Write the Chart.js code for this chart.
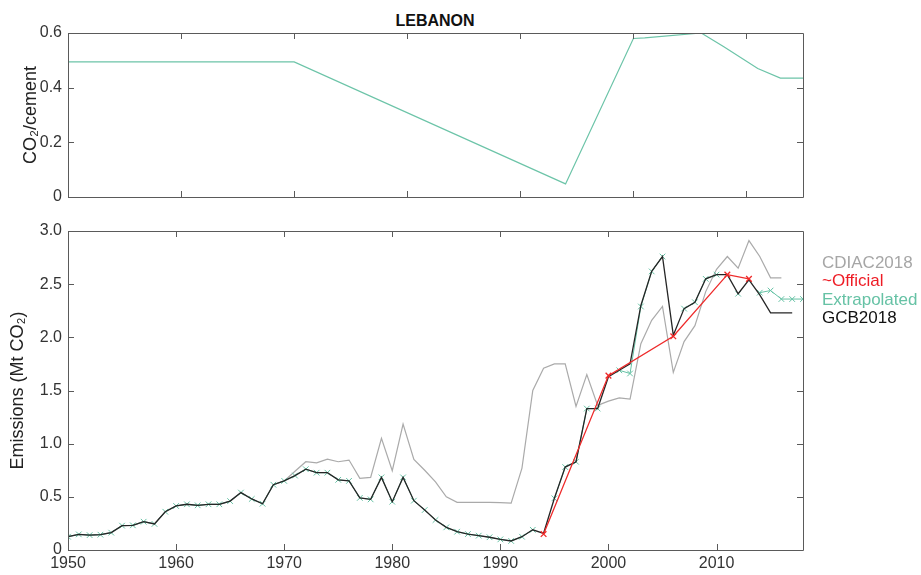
<!DOCTYPE html>
<html>
<head>
<meta charset="utf-8">
<script src="https://cdn.jsdelivr.net/npm/chart.js@4.4.1/dist/chart.umd.min.js"></script>
<style>
    body { margin: 0; background: #fff; font-family: Helvetica, "Liberation Sans", Arial, sans-serif; }
    #wrap { position: relative; width: 921px; height: 575px; overflow: hidden; }
    #topChart { position: absolute; left: 0; top: 0; }
    #bottomChart { position: absolute; left: 0; top: 215px; }
    #title { position: absolute; left: 0; top: 13px; width: 870px; text-align: center; font-weight: bold; font-size: 16px; line-height: 16px; color: #111; }
    #legend { position: absolute; left: 822px; top: 254px; font-size: 17px; line-height: 18.4px; white-space: nowrap; }
</style>
</head>
<body>
<div id="wrap">
    <div id="title">LEBANON</div>
    <canvas id="topChart" width="921" height="215"></canvas>
    <canvas id="bottomChart" width="921" height="360"></canvas>
    <div id="legend">
        <div style="color:#a6a6a6">CDIAC2018</div>
        <div style="color:#ee1c25">~Official</div>
        <div style="color:#66c2a5">Extrapolated</div>
        <div style="color:#111">GCB2018</div>
    </div>
</div>
<script>
// Ratio CO2 / cement (panel superior)
const ratioYears = [1950, 1970, 1994, 2000, 2001, 2006, 2008, 2011, 2013, 2015];
const ratioValues = [0.494, 0.494, 0.048, 0.58, 0.582, 0.60, 0.55, 0.47, 0.435, 0.435];
const ratioXTicks = [1950, 1960, 1970, 1980, 1990, 2000, 2010];
const ratioYTicks = [0, 0.2, 0.4, 0.6];

// Emisiones (panel inferior)
const years = [1950, 1951, 1952, 1953, 1954, 1955, 1956, 1957, 1958, 1959,
    1960, 1961, 1962, 1963, 1964, 1965, 1966, 1967, 1968, 1969,
    1970, 1971, 1972, 1973, 1974, 1975, 1976, 1977, 1978, 1979,
    1980, 1981, 1982, 1983, 1984, 1985, 1986, 1987, 1988, 1989,
    1990, 1991, 1992, 1993, 1994, 1995, 1996, 1997, 1998, 1999,
    2000, 2001, 2002, 2003, 2004, 2005, 2006, 2007, 2008, 2009,
    2010, 2011, 2012, 2013, 2014, 2015, 2016, 2017, 2018];

const gcb2018 = [0.125, 0.147, 0.14, 0.144, 0.163, 0.229, 0.232, 0.266, 0.245, 0.36,
    0.414, 0.43, 0.42, 0.43, 0.43, 0.46, 0.54, 0.48, 0.435, 0.614,
    0.65, 0.70, 0.76, 0.727, 0.727, 0.66, 0.65, 0.49, 0.476, 0.683,
    0.454, 0.683, 0.464, 0.376, 0.282, 0.213, 0.172, 0.15, 0.135, 0.12,
    0.10, 0.085, 0.125, 0.19, 0.157, 0.486, 0.78, 0.83, 1.33, 1.33,
    1.63, 1.69, 1.75, 2.30, 2.62, 2.76, 2.02, 2.27, 2.33, 2.55,
    2.59, 2.59, 2.41, 2.54, 2.40, 2.23, 2.23, 2.23, null];

const cdiac2018 = [0.125, 0.147, 0.14, 0.144, 0.163, 0.229, 0.232, 0.266, 0.245, 0.36,
    0.414, 0.43, 0.42, 0.43, 0.43, 0.46, 0.54, 0.48, 0.435, 0.614,
    0.65, 0.74, 0.83, 0.82, 0.855, 0.83, 0.846, 0.674, 0.683, 1.05,
    0.746, 1.184, 0.852, 0.75, 0.64, 0.50, 0.448, 0.448, 0.448, 0.448,
    0.445, 0.44, 0.77, 1.50, 1.71, 1.75, 1.75, 1.35, 1.65, 1.36,
    1.40, 1.43, 1.42, 1.94, 2.16, 2.29, 1.67, 1.96, 2.11, 2.43,
    2.64, 2.76, 2.65, 2.91, 2.76, 2.56, 2.56, null, null];

const extrapolated = [0.125, 0.147, 0.14, 0.144, 0.163, 0.229, 0.232, 0.266, 0.245, 0.36,
    0.414, 0.43, 0.42, 0.43, 0.43, 0.46, 0.54, 0.48, 0.435, 0.614,
    0.65, 0.70, 0.76, 0.727, 0.727, 0.66, 0.65, 0.49, 0.476, 0.683,
    0.454, 0.683, 0.464, 0.376, 0.282, 0.213, 0.172, 0.15, 0.135, 0.12,
    0.10, 0.085, 0.125, 0.19, null, 0.486, 0.78, 0.83, 1.33, 1.33,
    null, 1.69, 1.66, 2.29, 2.62, 2.76, null, 2.27, 2.33, 2.55,
    2.59, null, 2.41, null, 2.42, 2.44, 2.36, 2.36, 2.36];

const officialYears = [1994, 2000, 2006, 2011, 2013];
const officialValues = [0.15, 1.64, 2.01, 2.59, 2.55];

const emisXTicks = [1950, 1960, 1970, 1980, 1990, 2000, 2010];
const emisYTicks = [0, 0.5, 1.0, 1.5, 2.0, 2.5, 3.0];

Chart.defaults.font.family = 'Helvetica, "Liberation Sans", Arial, sans-serif';
Chart.defaults.color = '#333';

// Caja y marcas hacia dentro (estilo MATLAB)
const boxTicks = {
    id: 'boxTicks',
    afterDatasetsDraw(chart) {
        const { ctx, chartArea: a, scales: { x, y } } = chart;
        const len = 6;
        ctx.save();
        ctx.strokeStyle = '#5a5a5a';
        ctx.lineWidth = 1;
        ctx.beginPath();
        x.ticks.forEach(t => {
            const px = Math.round(x.getPixelForValue(t.value)) + 0.5;
            ctx.moveTo(px, a.bottom); ctx.lineTo(px, a.bottom - len);
            ctx.moveTo(px, a.top); ctx.lineTo(px, a.top + len);
        });
        y.ticks.forEach(t => {
            const py = Math.round(y.getPixelForValue(t.value)) + 0.5;
            ctx.moveTo(a.left, py); ctx.lineTo(a.left + len, py);
            ctx.moveTo(a.right, py); ctx.lineTo(a.right - len, py);
        });
        ctx.rect(Math.round(a.left) + 0.5, Math.round(a.top) + 0.5,
            Math.round(a.right - a.left), Math.round(a.bottom - a.top));
        ctx.stroke();
        ctx.restore();
    }
};

function fmtY(v) {
    return v === 0 ? '0' : v.toFixed(1);
}

new Chart(document.getElementById('topChart'), {
    type: 'line',
    data: {
        datasets: [{
            data: ratioYears.map((yr, i) => ({ x: yr, y: ratioValues[i] })),
            borderColor: '#6cc4a8',
            borderWidth: 1.2,
            pointRadius: 0,
            tension: 0
        }]
    },
    options: {
        responsive: false,
        animation: false,
        layout: { padding: { left: 0, top: 33, right: 118, bottom: 0 } },
        plugins: { legend: { display: false }, tooltip: { enabled: false } },
        scales: {
            x: {
                type: 'linear', min: 1950, max: 2015,
                afterBuildTicks: s => { s.ticks = ratioXTicks.map(v => ({ value: v })); },
                afterFit: s => { s.height = 18; },
                grid: { display: false, drawTicks: false },
                border: { display: false },
                ticks: { display: false }
            },
            y: {
                min: 0, max: 0.6,
                afterBuildTicks: s => { s.ticks = ratioYTicks.map(v => ({ value: v })); },
                afterFit: s => { s.width = 68; },
                grid: { display: false, drawTicks: false },
                border: { display: false },
                ticks: { font: { size: 16 }, padding: 6, callback: fmtY },
                title: { display: true, text: 'CO₂/cement', font: { size: 18 }, color: '#222', padding: { top: 20, bottom: 0 } }
            }
        }
    },
    plugins: [boxTicks]
});

new Chart(document.getElementById('bottomChart'), {
    type: 'line',
    data: {
        datasets: [
            {
                label: 'CDIAC2018',
                data: years.map((yr, i) => ({ x: yr, y: cdiac2018[i] })),
                borderColor: '#aaaaaa',
                borderWidth: 1.2,
                pointRadius: 0,
                order: 4
            },
            {
                label: 'Extrapolated',
                data: years.map((yr, i) => ({ x: yr, y: extrapolated[i] })),
                borderColor: '#66c2a5',
                borderWidth: 1,
                pointStyle: 'crossRot',
                pointRadius: 4,
                pointBorderWidth: 1,
                pointBorderColor: '#66c2a5',
                order: 3
            },
            {
                label: 'GCB2018',
                data: years.map((yr, i) => ({ x: yr, y: gcb2018[i] })),
                borderColor: '#262626',
                borderWidth: 1.3,
                pointRadius: 0,
                order: 2
            },
            {
                label: '~Official',
                data: officialYears.map((yr, i) => ({ x: yr, y: officialValues[i] })),
                borderColor: '#ee2a2a',
                borderWidth: 1.3,
                pointStyle: 'crossRot',
                pointRadius: 4,
                pointBorderWidth: 1.3,
                pointBorderColor: '#ee2a2a',
                order: 1
            }
        ]
    },
    options: {
        responsive: false,
        animation: false,
        spanGaps: false,
        elements: { line: { tension: 0 } },
        layout: { padding: { left: 0, top: 16, right: 118, bottom: 0 } },
        plugins: { legend: { display: false }, tooltip: { enabled: false } },
        scales: {
            x: {
                type: 'linear', min: 1950, max: 2018,
                afterBuildTicks: s => { s.ticks = emisXTicks.map(v => ({ value: v })); },
                afterFit: s => { s.height = 25; },
                grid: { display: false, drawTicks: false },
                border: { display: false },
                ticks: { font: { size: 16 }, padding: 4, maxRotation: 0, autoSkip: false, callback: v => String(v) }
            },
            y: {
                min: 0, max: 3,
                afterBuildTicks: s => { s.ticks = emisYTicks.map(v => ({ value: v })); },
                afterFit: s => { s.width = 68; },
                grid: { display: false, drawTicks: false },
                border: { display: false },
                ticks: { font: { size: 16 }, padding: 6, callback: fmtY },
                title: { display: true, text: 'Emissions (Mt CO₂)', font: { size: 18 }, color: '#222', padding: { top: 7, bottom: 0 } }
            }
        }
    },
    plugins: [boxTicks]
});
</script>
</body>
</html>
